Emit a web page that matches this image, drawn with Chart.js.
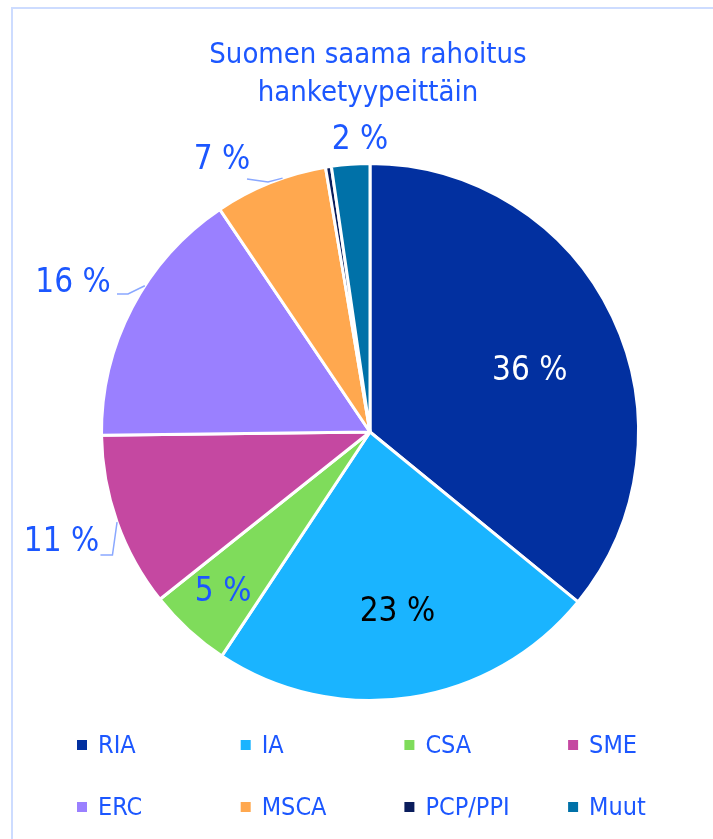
<!DOCTYPE html>
<html>
<head>
<meta charset="utf-8">
<script src="https://cdn.jsdelivr.net/npm/chart.js@4/dist/chart.umd.min.js"></script>
<style>
  html, body { margin: 0; padding: 0; background: #fff; }
  #wrap { position: relative; width: 713px; height: 839px; }
</style>
</head>
<body>
<div id="wrap"><canvas id="pie" width="713" height="839"></canvas></div>
<script>
// Tiedot
const categories = ['RIA', 'IA', 'CSA', 'SME', 'ERC', 'MSCA', 'PCP/PPI', 'Muut'];
const shares = [35.9, 23.4, 5.0, 10.5, 15.75, 6.8, 0.35, 2.3];
const pctLabels = ['36 %', '23 %', '5 %', '11 %', '16 %', '7 %', '', '2 %'];
const titleLines = ['Suomen saama rahoitus', 'hanketyypeittäin'];

const colors = ['#0230a0', '#1ab4ff', '#7fdc5b', '#c548a1', '#9a80ff', '#ffa84f', '#0a1d5c', '#0071a8'];
const blue = '#1c57ff';
const FONT = '"DejaVu Sans Condensed", "Liberation Sans Narrow", "Noto Sans", sans-serif';

// label placement: radius factor, text colour, optional leader (offsets from label centre)
const labelCfg = [
    { r: 0.63, dx: 7, dy: 12, color: '#fff' },
    { r: 0.68, dx: 0, dy: 0, color: '#000' },
    { r: 0.81, dx: 0, dy: 0, color: blue },
    { r: 1.22, dx: 0, dy: 0, color: blue, leader: [[51, 13], [39, 13]], edgeAngle: 250.4 },
    { r: 1.0, abs: true, color: blue, leader: [[55, 11], [44, 11]], edgeAngle: 303 },
    { r: 1.0, abs: true, color: blue, leader: [[46, 22], [25, 19]], edgeAngle: 341 },
    null,
    { r: 1.0, abs: true, color: blue }
];
// absolute label spots for the crowded top-left labels
const absSpots = { 4: [73, 283], 5: [222, 160], 7: [360, 140] };

const overlay = {
    id: 'overlay',
    afterDraw(chart) {
        const ctx = chart.ctx;
        const meta = chart.getDatasetMeta(0);
        const arc0 = meta.data[0];
        const cx = arc0.x, cy = arc0.y, R = arc0.outerRadius;

        ctx.save();
        // reunus
        ctx.strokeStyle = '#cddcff';
        ctx.lineWidth = 2;
        ctx.strokeRect(12, 8, 760, 900);

        // otsikko
        ctx.fillStyle = blue;
        ctx.font = '29px ' + FONT;
        ctx.textAlign = 'center';
        ctx.textBaseline = 'middle';
        titleLines.forEach((t, i) => ctx.fillText(t, 368, 55 + i * 38));

        // prosenttilabelit
        ctx.font = '33px ' + FONT;
        meta.data.forEach((arc, i) => {
            const cfg = labelCfg[i];
            if (!cfg || !pctLabels[i]) return;
            let x, y;
            if (cfg.abs) {
                [x, y] = absSpots[i];
            } else {
                const mid = (arc.startAngle + arc.endAngle) / 2;
                x = cx + Math.cos(mid) * R * cfg.r + cfg.dx;
                y = cy + Math.sin(mid) * R * cfg.r + cfg.dy;
            }
            if (cfg.leader) {
                const a = (cfg.edgeAngle - 90) * Math.PI / 180;
                ctx.strokeStyle = '#8aa8ff';
                ctx.lineWidth = 1.5;
                ctx.beginPath();
                ctx.moveTo(cx + Math.cos(a) * R, cy + Math.sin(a) * R);
                cfg.leader.forEach(p => ctx.lineTo(x + p[0], y + p[1]));
                ctx.stroke();
            }
            ctx.fillStyle = cfg.color;
            ctx.fillText(pctLabels[i], x, y);
        });

        // selite
        ctx.font = '25px ' + FONT;
        ctx.textAlign = 'left';
        categories.forEach((c, i) => {
            const col = i % 4, row = Math.floor(i / 4);
            const x = 77 + col * 163.7, y = 745 + row * 62;
            ctx.fillStyle = colors[i];
            ctx.fillRect(x, y - 5, 10, 10);
            ctx.fillStyle = blue;
            ctx.fillText(c, x + 21, y + 1);
        });
        ctx.restore();
    }
};

new Chart(document.getElementById('pie'), {
    type: 'pie',
    data: {
        labels: categories,
        datasets: [{
            data: shares,
            backgroundColor: colors,
            borderColor: '#fff',
            borderWidth: 3
        }]
    },
    options: {
        responsive: false,
        animation: false,
        layout: { padding: { left: 100, right: 73, top: 162, bottom: 137 } },
        plugins: {
            legend: { display: false },
            title: { display: false },
            tooltip: { enabled: false }
        }
    },
    plugins: [overlay]
});
</script>
</body>
</html>
